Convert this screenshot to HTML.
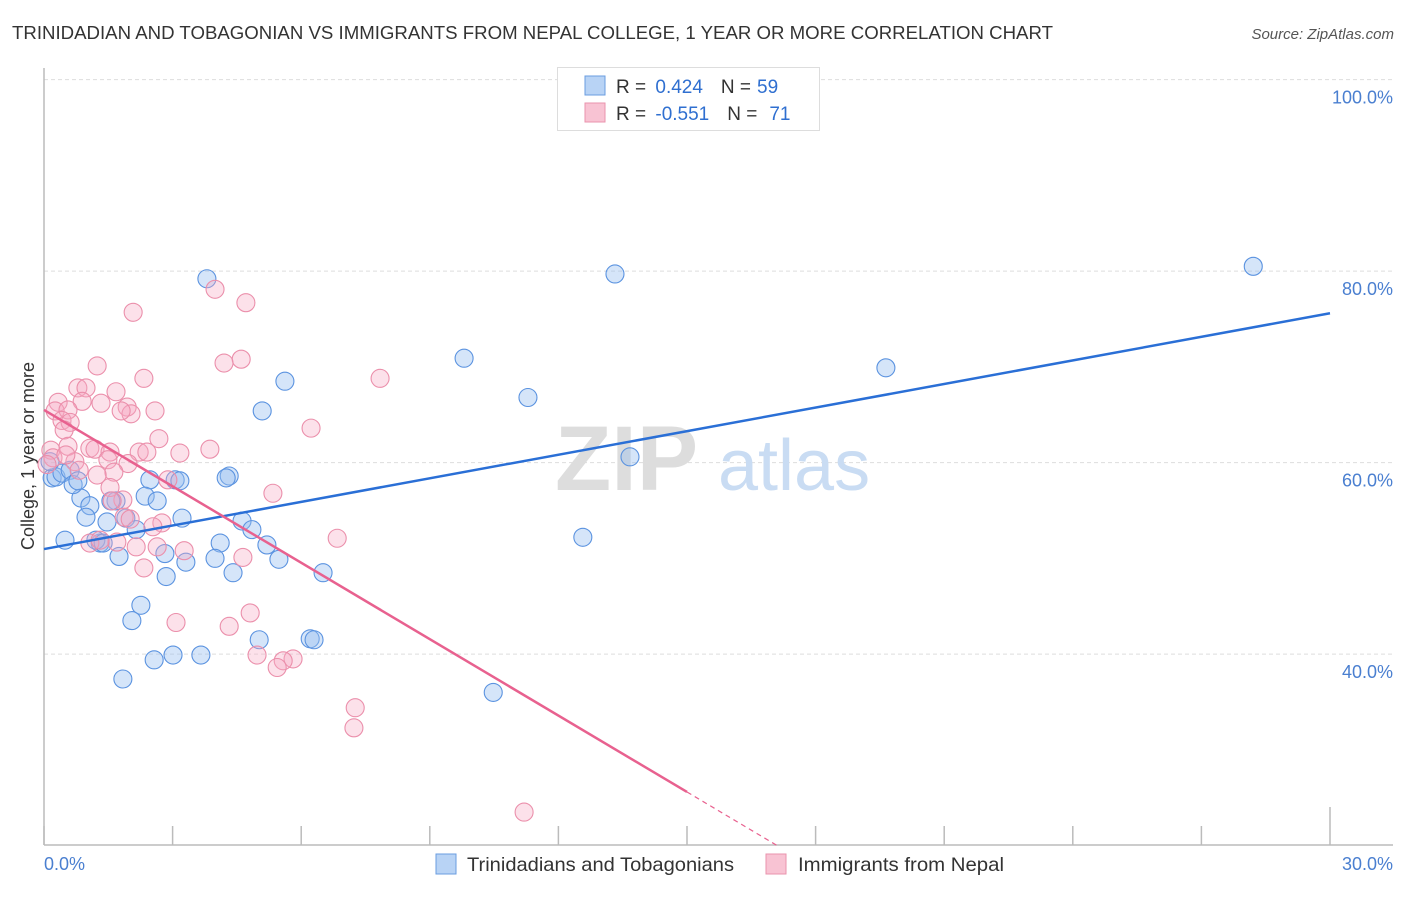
<!DOCTYPE html>
<html><head><meta charset="utf-8"><style>
body{margin:0;background:#fff;font-family:"Liberation Sans",sans-serif}
svg text{font-family:"Liberation Sans",sans-serif}
</style></head><body>
<svg width="1406" height="892" viewBox="0 0 1406 892" xmlns="http://www.w3.org/2000/svg">
<text x="12" y="39" font-size="18" fill="#333" textLength="1041" lengthAdjust="spacingAndGlyphs">TRINIDADIAN AND TOBAGONIAN VS IMMIGRANTS FROM NEPAL COLLEGE, 1 YEAR OR MORE CORRELATION CHART</text>
<text x="1394" y="39" font-size="15" fill="#555" font-style="italic" text-anchor="end">Source: ZipAtlas.com</text>
<g id="grid"></g>
<g><text x="555" y="490" font-size="92" fill="#ddd" font-family="Liberation Serif,serif" font-weight="bold">ZIP</text><text x="718" y="490" font-size="72" fill="#c9dcf3">atlas</text></g>
<line x1="44" y1="68" x2="44" y2="845" stroke="#bbb" stroke-width="1.5"/>
<line x1="44" y1="845" x2="1393" y2="845" stroke="#bbb" stroke-width="1.5"/>
<g id="xticks"></g>
<g id="ylabels"></g>
<text x="44" y="870" font-size="18" fill="#4a7fd0">0.0%</text>
<text x="1393" y="870" font-size="18" fill="#4a7fd0" text-anchor="end">30.0%</text>
<text transform="translate(34,456) rotate(-90)" font-size="18" fill="#333" text-anchor="middle">College, 1 year or more</text>
<g id="pts"></g>
<g id="trends"></g>
<g>
<rect x="557.5" y="67.5" width="262" height="63" fill="#fff" stroke="#ddd"/>
<rect x="585" y="76" width="20" height="19" fill="#b8d3f5" stroke="#6a9de0"/>
<rect x="585" y="103" width="20" height="19" fill="#f8c3d3" stroke="#ea93ad"/>
<text x="616" y="93" font-size="19" fill="#333">R = <tspan fill="#2f6fd0" dx="4">0.424</tspan><tspan dx="18" fill="#333">N =</tspan><tspan fill="#2f6fd0" dx="6">59</tspan></text>
<text x="616" y="120" font-size="19" fill="#333">R = <tspan fill="#2f6fd0" dx="4">-0.551</tspan><tspan dx="18" fill="#333">N =</tspan><tspan fill="#2f6fd0" dx="12">71</tspan></text>
</g>
<g><rect x="436" y="854" width="20" height="20" fill="#b8d3f5" stroke="#6a9de0"/><text x="467" y="871" font-size="19.8" fill="#333" textLength="267" lengthAdjust="spacingAndGlyphs">Trinidadians and Tobagonians</text></g>
<g><rect x="766" y="854" width="20" height="20" fill="#f8c3d3" stroke="#ea93ad"/><text x="798" y="871" font-size="19.8" fill="#333" textLength="206" lengthAdjust="spacingAndGlyphs">Immigrants from Nepal</text></g>
</svg>
<script>
const yTicks=[40,60,80,100];
const yTickLabels=["40.0%","60.0%","80.0%","100.0%"];
const xTickVals=[0,3,6,9,12,15,18,21,24,27,30];
const blueX=[3.80,13.32,28.21,19.64,9.80,11.29,5.62,5.09,13.67,12.57,10.48,6.51,6.21,6.30,5.02,4.32,4.25,3.06,3.17,2.47,2.36,2.64,1.68,1.56,0.86,1.07,0.19,0.28,0.42,0.61,0.68,0.79,0.98,1.47,1.91,2.15,3.22,4.62,4.85,5.20,5.48,4.11,3.99,4.41,3.31,2.82,2.85,1.75,1.31,1.21,0.49,2.26,2.05,2.57,3.01,3.66,1.84,0.14,1.38];
const blueY=[79.2,79.7,80.5,69.9,70.9,66.8,68.5,65.4,60.6,52.2,36.0,48.5,41.6,41.5,41.5,58.6,58.4,58.2,58.1,58.2,56.5,56.0,56.0,56.0,56.3,55.5,58.4,58.5,58.9,59.2,57.7,58.1,54.3,53.8,54.2,53.0,54.2,53.9,53.0,51.4,49.9,51.6,50.0,48.5,49.6,50.5,48.1,50.2,51.6,51.9,51.9,45.1,43.5,39.4,39.9,39.9,37.4,60.1,51.6];
const pinkX=[3.99,4.71,2.08,4.60,4.20,7.84,1.24,2.33,0.79,0.98,1.68,0.89,0.33,0.26,0.56,1.33,1.94,2.03,2.59,1.80,6.23,0.42,0.61,0.47,2.68,3.87,3.17,1.07,1.19,1.54,2.22,2.40,0.56,0.16,0.21,0.07,0.72,1.49,1.96,0.82,1.63,1.24,5.34,1.54,2.89,1.84,1.59,1.87,2.75,2.54,6.84,1.07,1.70,2.15,2.64,3.27,4.64,2.33,4.81,3.08,4.32,4.97,5.81,5.58,5.44,7.26,7.23,11.20,2.01,0.51,1.31];
const pinkY=[78.1,76.7,75.7,70.8,70.4,68.8,70.1,68.8,67.8,67.8,67.4,66.4,66.3,65.4,65.5,66.2,65.8,65.1,65.4,65.4,63.6,64.4,64.2,63.4,62.5,61.4,61.0,61.5,61.4,61.1,61.1,61.1,61.7,61.3,60.5,59.8,60.1,60.3,59.9,59.2,59.0,58.7,56.8,57.4,58.2,56.1,56.0,54.3,53.7,53.3,52.1,51.6,51.7,51.2,51.2,50.8,50.1,49.0,44.3,43.3,42.9,39.9,39.5,39.3,38.6,34.4,32.3,23.5,54.1,60.8,51.9];
const blueTrend=[50.97,75.6];
const pinkTrend=[65.5,25.6,15];
const NS="http://www.w3.org/2000/svg";
function sx(v){return 44+(v/30)*1286;}
function sy(v){return 845.6-(v-20)*9.575;}
function mk(t,a,p){const e=document.createElementNS(NS,t);for(const k in a)e.setAttribute(k,a[k]);p.appendChild(e);return e;}
const grid=document.getElementById('grid'),yl=document.getElementById('ylabels'),xt=document.getElementById('xticks');
yTicks.forEach((v,i)=>{
 const l=mk('line',{x1:44,x2:1393,y1:sy(v),y2:sy(v),stroke:'#ddd','stroke-dasharray':'4,3'},grid);
 
 
 const t=mk('text',{x:1393,y:sy(v)+24,'font-size':18,fill:'#4a7fd0','text-anchor':'end'},yl);
 t.textContent=yTickLabels[i];
 
 
});
xTickVals.forEach((v,i)=>{
 const l=mk('line',{x1:sx(v),x2:sx(v),y1:(i==xTickVals.length-1?807:826),y2:845,stroke:'#bbb','stroke-width':1.5},xt);
 
 
});
const pts=document.getElementById('pts');
blueX.forEach((x,i)=>{
 const c=mk('circle',{cx:sx(x),cy:sy(blueY[i]),r:9,fill:'rgba(150,190,240,0.4)',stroke:'#5b93e0','stroke-width':1.1},pts);
 
 
});
pinkX.forEach((x,i)=>{
 const c=mk('circle',{cx:sx(x),cy:sy(pinkY[i]),r:9,fill:'rgba(245,170,195,0.35)',stroke:'#eb8fab','stroke-width':1.1},pts);
 
 
});
const tr=document.getElementById('trends');
const b=mk('line',{x1:sx(0),y1:sy(blueTrend[0]),x2:sx(30),y2:sy(blueTrend[1]),stroke:'#2a6fd6','stroke-width':2.5},tr);


const slope=(pinkTrend[1]-pinkTrend[0])/pinkTrend[2];
const p=mk('line',{x1:sx(0),y1:sy(pinkTrend[0]),x2:sx(pinkTrend[2]),y2:sy(pinkTrend[1]),stroke:'#e8618f','stroke-width':2.5},tr);


const xEnd=(20-pinkTrend[0])/slope;
const pd=mk('line',{x1:sx(pinkTrend[2]),y1:sy(pinkTrend[1]),x2:sx(xEnd),y2:sy(20),stroke:'#e8618f','stroke-width':1.2,'stroke-dasharray':'5,4'},tr);


</script>
</body></html>
